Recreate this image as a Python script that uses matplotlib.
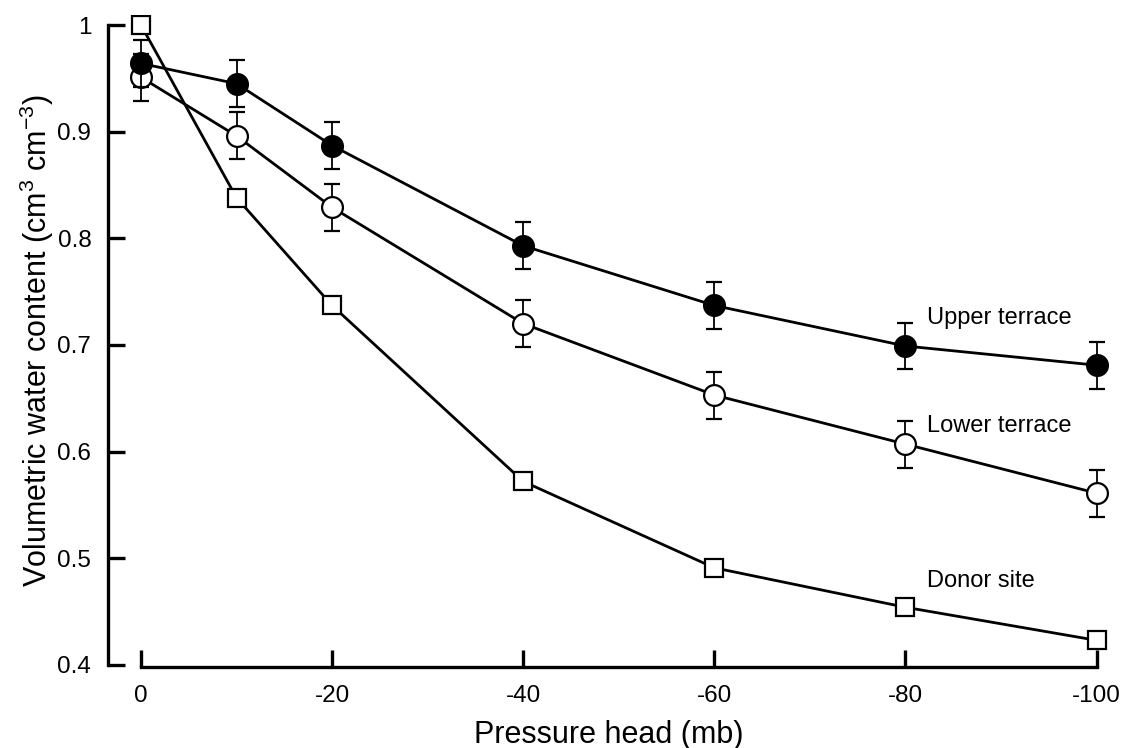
import matplotlib.pyplot as plt

plt.rcParams['font.family'] = ['Liberation Sans', 'DejaVu Sans']
plt.rcParams['mathtext.fontset'] = 'custom'
plt.rcParams['mathtext.rm'] = 'Liberation Sans'
plt.rcParams['mathtext.it'] = 'Liberation Sans'

# Data
pressure = [0, -10, -20, -40, -60, -80, -100]
upper = [0.964, 0.945, 0.887, 0.793, 0.737, 0.699, 0.681]
upper_err = [0.022, 0.022, 0.022, 0.022, 0.022, 0.022, 0.022]
lower = [0.951, 0.896, 0.829, 0.720, 0.653, 0.607, 0.561]
lower_err = [0.022, 0.022, 0.022, 0.022, 0.022, 0.022, 0.022]
donor = [1.0, 0.838, 0.737, 0.572, 0.491, 0.454, 0.423]

xticks = [0, -20, -40, -60, -80, -100]
yticks = [0.4, 0.5, 0.6, 0.7, 0.8, 0.9, 1.0]
ytick_labels = ["0.4", "0.5", "0.6", "0.7", "0.8", "0.9", "1"]

fig = plt.figure(figsize=(11.23, 7.48), dpi=100)
ax = fig.add_axes([108 / 1123, (748 - 667) / 748, (1110 - 108) / 1123, (667 - 15) / 748])

lw = 2.0
ax.plot(pressure, donor, color='black', lw=lw, marker='s', ms=12.5,
        mfc='white', mec='black', mew=1.6, zorder=3)
ax.errorbar(pressure, lower, yerr=lower_err, color='black', lw=lw, marker='o',
            ms=15, mfc='white', mec='black', mew=1.6, capsize=6,
            elinewidth=1.3, capthick=1.3, zorder=4)
ax.errorbar(pressure, upper, yerr=upper_err, color='black', lw=lw, marker='o',
            ms=15, mfc='black', mec='black', mew=1.6, capsize=6,
            elinewidth=1.3, capthick=1.3, zorder=5)

ax.text(-82.3, 0.725, "Upper terrace", fontsize=17, ha='left', va='center')
ax.text(-82.3, 0.624, "Lower terrace", fontsize=17, ha='left', va='center')
ax.text(-82.3, 0.479, "Donor site", fontsize=17, ha='left', va='center')

ax.set_xlim(3.45, -101.4)
ax.set_ylim(0.398, 1.0094)
ax.set_xticks(xticks)
ax.set_xticklabels([str(v) for v in xticks])
ax.set_yticks(yticks)
ax.set_yticklabels(ytick_labels)

for s in ['top', 'right']:
    ax.spines[s].set_visible(False)
ax.spines['left'].set_bounds(0.4, 1.0)
ax.spines['bottom'].set_bounds(0, -100)
for s in ['left', 'bottom']:
    ax.spines[s].set_linewidth(2.4)
ax.tick_params(axis='both', direction='in', length=12, width=2.4, labelsize=17.5)
ax.tick_params(axis='y', pad=12)
ax.tick_params(axis='x', pad=13)

ax.set_xlabel("Pressure head (mb)", fontsize=22, labelpad=9)
ax.set_ylabel("Volumetric water content (cm$^{3}$ cm$^{\\mathrm{-3}}$)", fontsize=22, labelpad=1)

plt.savefig("out.png", dpi=100)
